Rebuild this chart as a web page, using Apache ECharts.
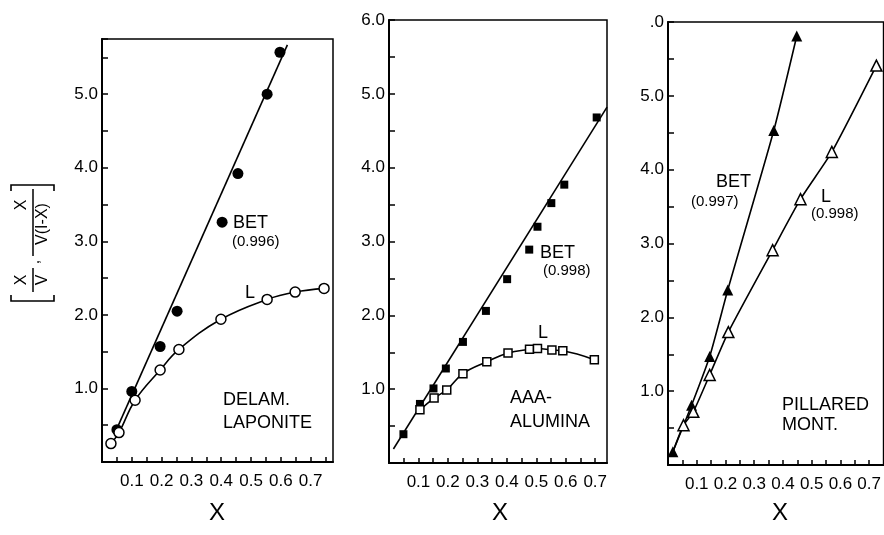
<!DOCTYPE html>
<html>
<head>
<meta charset="utf-8">
<script src="https://cdn.jsdelivr.net/npm/echarts@6/dist/echarts.min.js"></script>
<style>
  html, body { margin: 0; padding: 0; background: #fff; }
  #chart { width: 884px; height: 535px; }
</style>
</head>
<body>
<div id="chart"></div>
<script>
// tick labels
const xTickLabels = ['0.1', '0.2', '0.3', '0.4', '0.5', '0.6', '0.7'];
const yTickLabels = ['1.0', '2.0', '3.0', '4.0', '5.0', '6.0'];
const monTopLabel = '.0';

// DELAM. LAPONITE
const lapBET = [[0.05, 0.44], [0.10, 0.96], [0.195, 1.57], [0.252, 2.05], [0.403, 3.26], [0.456, 3.92], [0.554, 5.0], [0.597, 5.57]];
const lapBETFit = [[0.044, 0.40], [0.622, 5.67]];
const lapL = [[0.03, 0.25], [0.057, 0.40], [0.111, 0.84], [0.195, 1.25], [0.258, 1.53], [0.399, 1.94], [0.554, 2.21], [0.648, 2.31], [0.745, 2.36]];

// AAA-ALUMINA
const aluBET = [[0.049, 0.39], [0.105, 0.80], [0.151, 1.01], [0.193, 1.28], [0.251, 1.64], [0.329, 2.06], [0.401, 2.49], [0.476, 2.89], [0.504, 3.20], [0.551, 3.52], [0.595, 3.77], [0.705, 4.68]];
const aluBETFit = [[0.015, 0.19], [0.74, 4.82]];
const aluL = [[0.105, 0.72], [0.153, 0.88], [0.196, 0.99], [0.251, 1.21], [0.332, 1.37], [0.404, 1.49], [0.477, 1.54], [0.504, 1.55], [0.553, 1.53], [0.59, 1.52], [0.697, 1.40]];

// PILLARED MONT.
const monBET = [[0.017, 0.18], [0.082, 0.81], [0.145, 1.47], [0.208, 2.37], [0.368, 4.53], [0.448, 5.81]];
const monL = [[0.054, 0.54], [0.088, 0.72], [0.145, 1.22], [0.21, 1.80], [0.364, 2.91], [0.461, 3.60], [0.57, 4.24], [0.725, 5.41]];
const monLStart = [0.017, 0.18];

const FONT = 'Liberation Sans';

var myChart = echarts.init(document.getElementById('chart'));

function xFmt(v) {
  var k = Math.round(v * 10);
  if (Math.abs(v * 10 - k) > 1e-6 || k < 1) return '';
  return xTickLabels[k - 1] || '';
}
function yFmt(top) {
  return function (v) {
    var k = Math.round(v);
    if (Math.abs(v - k) > 1e-6 || k < 1) return '';
    if (top && k === 6) return top;
    return yTickLabels[k - 1] || '';
  };
}

function xAxisFor(gi, max) {
  return {
    gridIndex: gi, type: 'value', min: 0, max: max, interval: 0.05,
    axisLine: { onZero: false, lineStyle: { color: '#000', width: 2 } },
    axisTick: { inside: true, length: 5, lineStyle: { color: '#000', width: 1.5 } },
    splitLine: { show: false },
    axisLabel: { formatter: xFmt, color: '#000', fontSize: 17, fontFamily: FONT, margin: 11, showMaxLabel: false, showMinLabel: false }
  };
}
function yAxisFor(gi, max, top) {
  return {
    gridIndex: gi, type: 'value', min: 0, max: max, interval: 0.5,
    axisLine: { onZero: false, lineStyle: { color: '#000', width: 2 } },
    axisTick: { inside: true, length: 6, lineStyle: { color: '#000', width: 1.5 } },
    splitLine: { show: false },
    axisLabel: { formatter: yFmt(top), color: '#000', fontSize: 17, fontFamily: FONT, margin: 4, showMinLabel: false }
  };
}

function markers(data, gi, symbol, size, filled) {
  return {
    type: 'scatter', xAxisIndex: gi, yAxisIndex: gi, data: data,
    symbol: symbol, symbolSize: size, z: 5,
    itemStyle: { color: filled ? '#000' : '#fff', borderColor: '#000', borderWidth: filled ? 0 : 1.5, opacity: 1 }
  };
}
function curve(data, gi, smooth) {
  return {
    type: 'line', xAxisIndex: gi, yAxisIndex: gi, data: data,
    showSymbol: false, smooth: smooth, z: 3,
    lineStyle: { color: '#000', width: 1.6 }
  };
}

function label(t, x, y, size) {
  return {
    type: 'text', x: x, y: y, z: 10,
    style: { text: t, font: (size || 17) + 'px "' + FONT + '"', fill: '#000', textAlign: 'left', textVerticalAlign: 'middle' }
  };
}
function ctext(t, x, y, size) {
  return {
    type: 'text', x: x, y: y,
    style: { text: t, font: size + 'px "' + FONT + '"', fill: '#000', textAlign: 'center', textVerticalAlign: 'middle' }
  };
}

// y axis title, built horizontally then turned
var yTitle = {
  type: 'group', x: 33, y: 302, rotation: Math.PI / 2,
  children: [
    { type: 'polyline', shape: { points: [[7, -22], [1, -22], [1, 21], [7, 21]] }, style: { stroke: '#000', lineWidth: 1.6, fill: null } },
    { type: 'line', shape: { x1: 10, y1: 0, x2: 34, y2: 0 }, style: { stroke: '#000', lineWidth: 1.5 } },
    ctext('X', 22, -11, 16),
    ctext('V', 22, 10, 16),
    ctext(',', 40, 2, 16),
    { type: 'line', shape: { x1: 46, y1: 0, x2: 113, y2: 0 }, style: { stroke: '#000', lineWidth: 1.5 } },
    ctext('X', 97, -11, 16),
    ctext('V(I-X)', 78, 10, 16),
    { type: 'polyline', shape: { points: [[111, -22], [117, -22], [117, 21], [111, 21]] }, style: { stroke: '#000', lineWidth: 1.6, fill: null } }
  ]
};

var option = {
  backgroundColor: '#fff',
  animation: false,
  grid: [
    { left: 102, top: 39, width: 231, height: 423, show: true, borderColor: '#000', borderWidth: 1.5 },
    { left: 389, top: 20, width: 218, height: 443, show: true, borderColor: '#000', borderWidth: 1.5 },
    { left: 668, top: 22, width: 219, height: 443, show: true, borderColor: '#000', borderWidth: 1.5 }
  ],
  xAxis: [xAxisFor(0, 0.775), xAxisFor(1, 0.74), xAxisFor(2, 0.75)],
  yAxis: [yAxisFor(0, 5.75), yAxisFor(1, 6), yAxisFor(2, 6, monTopLabel)],
  series: [
    curve(lapBETFit, 0, false),
    curve(lapL, 0, 0.4),
    markers(lapBET, 0, 'circle', 11, true),
    markers(lapL, 0, 'circle', 10, false),

    curve(aluBETFit, 1, false),
    curve(aluL, 1, 0.4),
    markers(aluBET, 1, 'rect', 8, true),
    markers(aluL, 1, 'rect', 8, false),

    curve(monBET, 2, 0.2),
    curve([monLStart].concat(monL), 2, 0.2),
    markers(monBET, 2, 'triangle', 11, true),
    markers(monL, 2, 'triangle', 11, false)
  ],
  graphic: [
    yTitle,
    label('BET', 233, 223, 18), label('(0.996)', 232, 242, 15), label('L', 245, 293, 18),
    label('DELAM.', 223, 400, 18), label('LAPONITE', 223, 423, 18),
    label('BET', 540, 253, 18), label('(0.998)', 543, 271, 15), label('L', 538, 333, 18),
    label('AAA-', 510, 398, 18), label('ALUMINA', 510, 422, 18),
    label('BET', 716, 182, 18), label('(0.997)', 691, 202, 15), label('L', 821, 197, 18), label('(0.998)', 811, 214, 15),
    label('PILLARED', 782, 405, 18), label('MONT.', 782, 425, 18),
    ctext('X', 217, 513, 24), ctext('X', 500, 513, 24), ctext('X', 780, 513, 24)
  ]
};

myChart.setOption(option);
</script>
</body>
</html>
